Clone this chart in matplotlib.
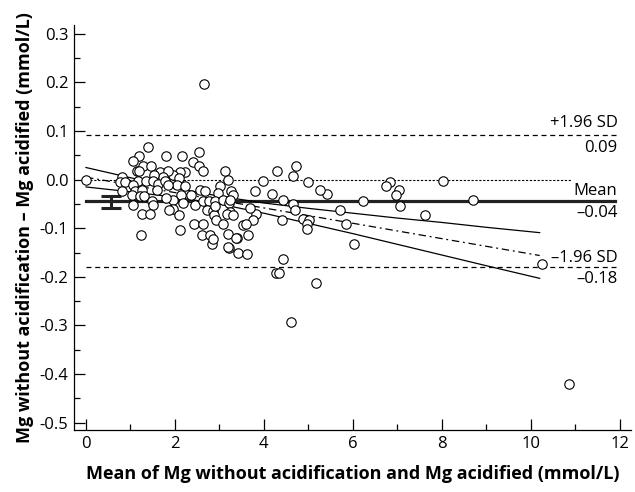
import numpy as np
import matplotlib.pyplot as plt
from matplotlib.ticker import MultipleLocator

plt.rcParams['font.family'] = ['Open Sans', 'DejaVu Sans']

# scatter: mean of the two methods (x) vs difference (y)
mean_mg = [0.00, 2.65, 10.85, 10.25, 8.02, 6.84, 6.74, 7.03, 6.96, 7.07, 6.23, 8.69, 7.62,
           5.72, 5.84, 6.03, 5.42, 5.27, 4.73, 4.30, 4.66, 3.98, 4.99, 3.80, 4.19, 4.43,
           4.66, 4.70, 3.82, 3.76, 4.41, 4.87, 5.02, 4.96, 4.97, 3.65, 4.43, 2.84, 3.21,
           3.41, 3.63, 4.27, 4.34, 5.16, 4.60, 3.39,
           2.55, 2.15, 2.40, 2.55, 2.64, 3.12, 2.22, 2.11, 1.96, 2.08, 3.20, 3.01, 2.04,
           2.22, 2.56, 2.67, 2.97, 3.27, 3.31, 2.37, 2.13, 1.96, 2.19, 2.45, 2.64, 2.77,
           2.90, 3.08, 3.22, 1.96, 2.71, 2.86, 3.24, 2.08, 2.88, 2.92, 2.11, 2.43, 2.64,
           3.08, 3.53, 3.60, 2.60, 2.79, 2.86, 3.20, 3.37, 3.20, 3.16, 3.69, 3.24, 3.31,
           1.39, 1.20, 1.80, 1.05, 1.29, 1.46, 1.14, 1.20, 1.66, 1.85, 0.82, 1.74, 1.53,
           0.76, 0.88, 1.18, 1.36, 1.51, 1.62, 1.78, 1.06, 0.80, 1.10, 1.25, 1.59, 1.81,
           1.03, 1.21, 1.31, 1.05, 1.48, 1.51, 1.25, 1.44, 1.24, 1.87, 1.85, 2.90]
diff_mg = [0.000, 0.197, -0.420, -0.173, -0.003, -0.004, -0.012, -0.022, -0.032, -0.055,
           -0.044, -0.042, -0.072, -0.063, -0.091, -0.132, -0.030, -0.022, 0.028, 0.017,
           0.007, -0.003, -0.004, -0.023, -0.030, -0.042, -0.050, -0.063, -0.070, -0.083,
           -0.082, -0.080, -0.082, -0.091, -0.102, -0.113, -0.163, -0.132, -0.141, -0.151,
           -0.152, -0.191, -0.191, -0.212, -0.293, -0.120,
           0.057, 0.048, 0.037, 0.028, 0.017, 0.018, 0.016, 0.016, 0.009, 0.004, -0.001,
           -0.012, -0.011, -0.012, -0.022, -0.023, -0.028, -0.023, -0.032, -0.032, -0.032,
           -0.042, -0.049, -0.052, -0.044, -0.044, -0.044, -0.042, -0.049, -0.061, -0.063,
           -0.064, -0.066, -0.073, -0.073, -0.082, -0.104, -0.091, -0.091, -0.091, -0.093,
           -0.091, -0.114, -0.113, -0.123, -0.112, -0.121, -0.139, -0.070, -0.058, -0.042,
           -0.073,
           0.067, 0.048, 0.048, 0.038, 0.028, 0.028, 0.017, 0.017, 0.016, 0.017, 0.006,
           0.006, 0.009, -0.004, -0.004, -0.002, -0.002, -0.002, -0.008, -0.002, -0.011,
           -0.023, -0.023, -0.022, -0.022, -0.037, -0.032, -0.034, -0.034, -0.052, -0.044,
           -0.052, -0.071, -0.071, -0.113, -0.063, -0.011, -0.054]

mean_diff = -0.0445
upper_loa = 0.091
lower_loa = -0.180
mean_ci = (-0.058, -0.034)
ci_x = 0.56

# regression of the differences and its 95% confidence band
fit_x = [0.0, 10.2]
fit_y = [0.005, -0.156]
band_x = [0.0, 1.0, 2.0, 3.0, 4.0, 5.0, 6.0, 7.0, 8.0, 9.0, 10.2]
band_upper = [0.025, 0.004, -0.017, -0.034, -0.048, -0.059, -0.069, -0.079, -0.088, -0.098, -0.109]
band_lower = [-0.015, -0.025, -0.036, -0.050, -0.069, -0.090, -0.111, -0.133, -0.155, -0.177, -0.203]

fig = plt.figure(figsize=(6.35, 4.92), dpi=100)
ax = fig.add_axes([0.1165, 0.126, 0.877, 0.823])

ax.plot([0, 10.9], [0, 0], color='black', lw=0.8, ls=(0, (2, 1.5)), zorder=1)
ax.plot([0, 11.95], [upper_loa, upper_loa], color='black', lw=0.9, ls=(0, (4, 3)), zorder=1)
ax.plot([0, 11.95], [lower_loa, lower_loa], color='black', lw=0.9, ls=(0, (4, 3)), zorder=1)
ax.plot([0, 11.9], [mean_diff, mean_diff], color='#222222', lw=2.3, zorder=2)

ax.plot(band_x, band_upper, color='black', lw=0.9, zorder=2)
ax.plot(band_x, band_lower, color='black', lw=0.9, zorder=2)
ax.plot(fit_x, fit_y, color='black', lw=0.9, ls=(0, (6, 3, 1.5, 3)), zorder=2)

ax.errorbar([ci_x], [np.mean(mean_ci)], yerr=[[np.mean(mean_ci) - mean_ci[0]], [mean_ci[1] - np.mean(mean_ci)]],
            color='#222222', lw=2.2, capsize=7, capthick=2.2, zorder=3)

ax.scatter(mean_mg, diff_mg, s=46, facecolors='white', edgecolors='black', linewidths=0.8, zorder=4)

lab_kw = dict(ha='right', fontsize=12, textcoords='offset points')
ax.annotate('+1.96 SD', (11.95, upper_loa), xytext=(0, 3), va='bottom', **lab_kw)
ax.annotate('0.09', (11.95, upper_loa), xytext=(0, -3), va='top', **lab_kw)
ax.annotate('Mean', (11.95, mean_diff), xytext=(0, 2), va='bottom', **lab_kw)
ax.annotate('\u20130.04', (11.95, mean_diff), xytext=(0, -3), va='top', **lab_kw)
ax.annotate('\u20131.96 SD', (11.95, lower_loa), xytext=(0, 1), va='bottom', **lab_kw)
ax.annotate('\u20130.18', (11.95, lower_loa), xytext=(0, -3), va='top', **lab_kw)

ax.set_xlim(-0.27, 12.25)
ax.set_ylim(-0.515, 0.318)
ax.xaxis.set_major_locator(MultipleLocator(2))
ax.xaxis.set_minor_locator(MultipleLocator(1))
ax.yaxis.set_minor_locator(MultipleLocator(0.05))
ax.set_yticks(np.arange(-0.5, 0.31, 0.1))
ax.set_yticklabels(['-0.5', '-0.4', '-0.3', '-0.2', '-0.1', '0.0', '0.1', '0.2', '0.3'])
ax.tick_params(which='major', direction='in', length=8, width=0.9, labelsize=12, pad=4)
ax.tick_params(which='minor', direction='in', length=4, width=0.9)
for s in ['top', 'right']:
    ax.spines[s].set_visible(False)
for s in ['left', 'bottom']:
    ax.spines[s].set_linewidth(0.9)

ax.set_xlabel('Mean of Mg without acidification and Mg acidified (mmol/L)',
              fontsize=13, fontweight='bold', labelpad=10)
ax.set_ylabel('Mg without acidification \u2013 Mg acidified (mmol/L)',
              fontsize=13, fontweight='bold', labelpad=4)

fig.savefig('out.png', dpi=100)
